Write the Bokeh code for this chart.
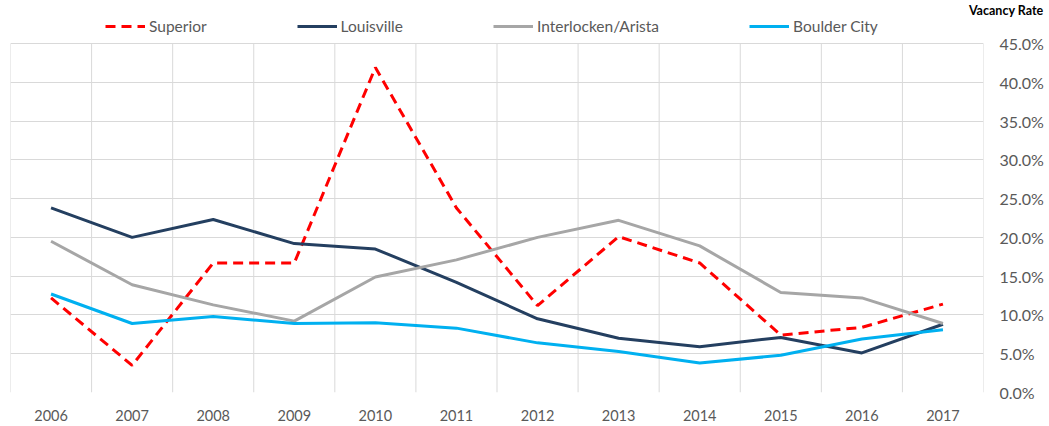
from bokeh.plotting import figure
from bokeh.models import (ColumnDataSource, Range1d, FixedTicker, NumeralTickFormatter,
                          Legend, LegendItem, Title)
from bokeh.embed import file_html
from bokeh.resources import INLINE

years = ["2006", "2007", "2008", "2009", "2010", "2011", "2012", "2013", "2014", "2015", "2016", "2017"]
superior = [12.2, 3.5, 16.7, 16.7, 41.9, 23.8, 11.2, 20.1, 16.7, 7.4, 8.4, 11.4]
louisville = [23.8, 20.0, 22.3, 19.2, 18.5, 14.2, 9.5, 7.0, 5.9, 7.1, 5.1, 8.8]
interlocken = [19.5, 13.9, 11.3, 9.2, 14.9, 17.1, 20.0, 22.2, 18.9, 12.9, 12.2, 8.9]
boulder = [12.7, 8.9, 9.8, 8.9, 9.0, 8.3, 6.4, 5.3, 3.8, 4.8, 6.9, 8.1]
y_ticks = [0.0, 0.05, 0.10, 0.15, 0.20, 0.25, 0.30, 0.35, 0.40, 0.45]

FONT = "Lato"
GRID = "#D9D9D9"
xs = list(range(len(years)))
src = ColumnDataSource(dict(
    x=xs,
    superior=[v / 100 for v in superior],
    louisville=[v / 100 for v in louisville],
    interlocken=[v / 100 for v in interlocken],
    boulder=[v / 100 for v in boulder],
))

TOP = 17          # px above frame (title band)
FH = 392 - TOP    # frame height: 0% line sits 392px from top
y_max = y_ticks[-1]
y_end = y_max * FH / (FH - (43 - TOP))   # leave headroom inside the frame for the legend

p = figure(frame_width=973, frame_height=FH, output_backend="svg", toolbar_location=None,
           x_range=Range1d(-0.5, len(years) - 0.5), y_range=Range1d(0, y_end),
           y_axis_location="right", min_border_left=10, min_border_top=TOP,
           min_border_right=0, min_border_bottom=0)
p.outline_line_color = None
p.background_fill_color = "white"
p.border_fill_color = "white"

# axes
p.xaxis.ticker = FixedTicker(ticks=xs)
p.xaxis.major_label_overrides = {i: y for i, y in enumerate(years)}
p.yaxis.ticker = FixedTicker(ticks=y_ticks)
p.yaxis.formatter = NumeralTickFormatter(format="0.0%")
for ax in (p.xaxis[0], p.yaxis[0]):
    ax.axis_line_color = None
    ax.major_tick_line_color = None
    ax.minor_tick_line_color = None
    ax.major_label_text_font = FONT
    ax.major_label_text_font_size = "14.5px"
    ax.major_label_text_color = "#595959"
p.xaxis.major_label_standoff = 11
p.yaxis.major_label_standoff = 10
p.yaxis.major_label_text_font_size = "16px"

# grids: horizontal from the y grid, vertical category separators limited to the value band
p.xgrid.grid_line_color = None
p.ygrid.ticker = FixedTicker(ticks=y_ticks)
p.ygrid.grid_line_color = GRID
sep = [i - 0.5 for i in range(len(years) + 1)]
p.segment(x0=sep, y0=[0] * len(sep), x1=sep, y1=[y_max] * len(sep),
          line_color=GRID, line_width=1, level="underlay")

r1 = p.line("x", "superior", source=src, line_color="#FF0000", line_width=3, line_dash="10 6")
r2 = p.line("x", "louisville", source=src, line_color="#243F60", line_width=3)
r3 = p.line("x", "interlocken", source=src, line_color="#A6A6A6", line_width=3)
r4 = p.line("x", "boulder", source=src, line_color="#00B0F0", line_width=3)

legend = Legend(items=[LegendItem(label="Superior", renderers=[r1]),
                       LegendItem(label="Louisville", renderers=[r2]),
                       LegendItem(label="Interlocken/Arista", renderers=[r3]),
                       LegendItem(label="Boulder City", renderers=[r4])],
                orientation="horizontal", location=(95, FH - (35 - TOP)), padding=0, margin=0,
                spacing=90, glyph_width=40, glyph_height=16, label_height=16,
                label_standoff=4, label_text_font=FONT, label_text_font_size="15.5px",
                label_text_color="#595959", border_line_color=None,
                background_fill_alpha=0)
p.add_layout(legend, "center")

p.add_layout(Title(text="Vacancy Rate", align="right", offset=-60, text_font=FONT,
                   text_font_size="12.5px", text_font_style="bold", text_color="#000000",
                   standoff=0, vertical_align="bottom"), "above")

open("out.html", "w").write(file_html(p, INLINE))
